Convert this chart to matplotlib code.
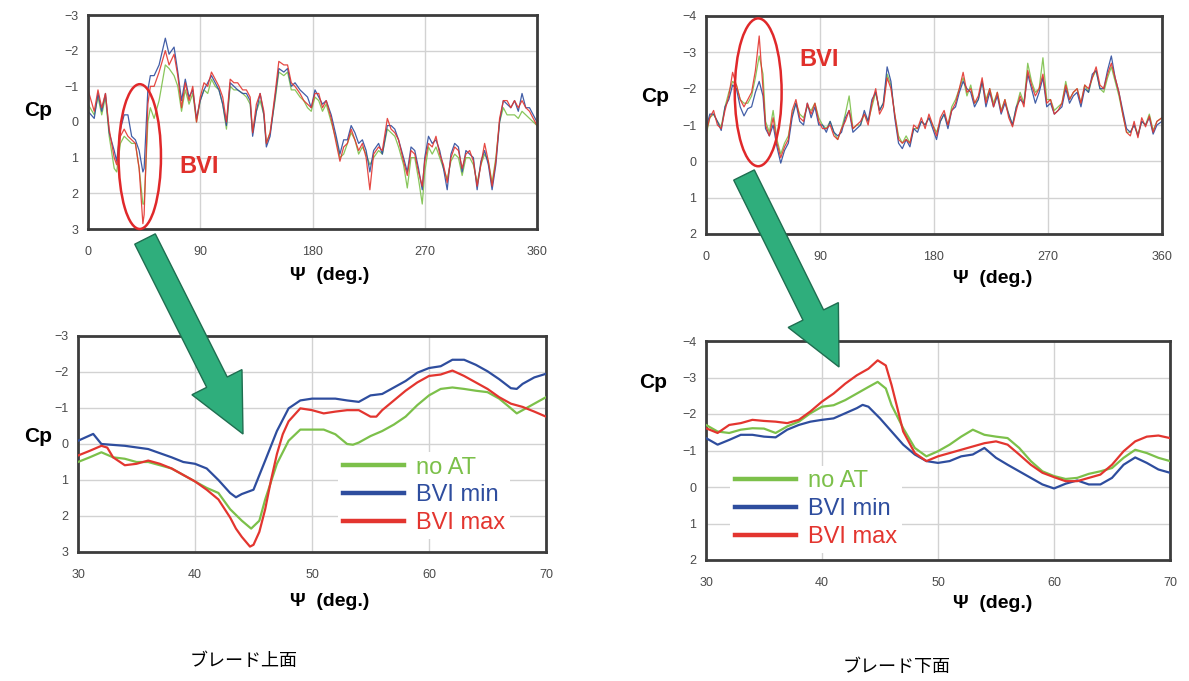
import matplotlib
matplotlib.use('Agg')
import matplotlib.pyplot as plt
from matplotlib.patches import Ellipse, FancyArrow

plt.rcParams['font.family'] = ['Liberation Sans', 'DejaVu Sans']

# ---------------- data ----------------
series_names = ['no AT', 'BVI min', 'BVI max']
series_colors = ['#7cc04a', '#2e4d9e', '#e3352f']

# upper surface, full revolution
psi_upper = [0, 5, 8, 11, 14, 17, 21, 23, 26, 29, 32, 35, 38, 41, 44, 45, 48, 50, 53, 57,
             62, 65, 69, 72, 75, 78, 81, 84, 87, 90, 93, 96, 99, 102, 105, 108, 111, 114, 117, 120,
             124, 127, 130, 132, 135, 138, 141, 143, 146, 150, 153, 157, 160, 163, 166, 170, 173, 176, 179, 182,
             185, 188, 191, 195, 199, 202, 205, 208, 211, 214, 217, 220, 223, 226, 229, 233, 236, 240, 243, 246,
             249, 253, 256, 259, 262, 265, 268, 270, 273, 276, 279, 282, 285, 288, 291, 294, 297, 300, 303, 306,
             309, 312, 315, 318, 321, 324, 327, 330, 333, 336, 339, 342, 345, 348, 351, 354, 357, 360]
cp_upper_noat = [-0.5, -0.2, -0.7, -0.2, -0.7, 0.4, 1.3, 1.4, 0.6, 0.4, 0.5, 0.6, 0.6, 1.3, 2.3, 2.3, 0.0, -0.4, -0.1, -0.6,
                 -1.6, -1.5, -1.3, -1.0, -0.3, -0.9, -0.5, -0.8, 0.0, -0.6, -0.9, -0.8, -1.2, -1.0, -0.9, -0.5, 0.2, -1.0, -0.9, -0.9,
                 -0.8, -0.7, -0.5, 0.3, -0.3, -0.6, -0.2, 0.6, 0.3, -0.6, -1.4, -1.3, -1.4, -0.9, -0.9, -0.7, -0.6, -0.4, -0.3, -0.7,
                 -0.6, -0.3, -0.5, 0.0, 0.5, 1.0, 0.9, 0.6, 0.3, 0.5, 0.9, 0.7, 0.9, 1.2, 1.0, 0.8, 0.9, 0.2, 0.3, 0.4,
                 0.7, 1.2, 1.85, 1.0, 1.0, 1.6, 2.3, 1.4, 0.7, 0.9, 0.7, 1.0, 1.3, 1.6, 1.1, 0.9, 1.0, 1.5, 1.0, 1.0,
                 1.2, 1.7, 1.2, 0.9, 1.1, 1.7, 1.0, 0.0, -0.4, -0.2, -0.2, -0.2, -0.1, -0.3, -0.2, -0.1, 0.0, 0.1]
cp_upper_min = [-0.3, -0.1, -0.8, -0.3, -0.8, 0.3, 0.8, 1.1, 0.2, -0.2, -0.2, 0.4, 0.5, 0.8, 1.4, 1.3, -0.9, -1.3, -1.3, -1.6,
                -2.35, -1.9, -2.1, -1.4, -0.6, -1.2, -0.7, -0.9, -0.1, -0.6, -0.9, -1.1, -1.3, -1.1, -0.9, -0.5, 0.1, -1.1, -1.0, -0.9,
                -0.8, -0.8, -0.6, 0.4, -0.3, -0.8, -0.2, 0.7, 0.4, -0.7, -1.5, -1.4, -1.5, -1.0, -1.1, -0.9, -0.8, -0.7, -0.4, -0.9,
                -0.7, -0.5, -0.6, -0.2, 0.4, 0.9, 0.5, 0.5, 0.1, 0.3, 0.6, 0.5, 0.8, 1.4, 0.8, 0.6, 0.9, 0.1, 0.1, 0.2,
                0.5, 1.0, 1.4, 0.7, 0.8, 1.3, 1.9, 1.0, 0.4, 0.6, 0.5, 0.8, 1.3, 1.9, 0.9, 0.6, 0.7, 1.4, 0.8, 0.9,
                1.0, 1.9, 1.1, 0.8, 1.2, 1.9, 1.2, 0.0, -0.6, -0.5, -0.4, -0.6, -0.3, -0.8, -0.4, -0.4, -0.2, 0.0]
cp_upper_max = [-0.9, -0.3, -0.9, -0.4, -0.8, 0.2, 1.0, 1.2, 0.4, 0.2, 0.4, 0.5, 0.6, 1.3, 2.85, 2.6, -0.5, -1.0, -1.0, -1.4,
                -2.0, -1.6, -1.9, -1.3, -0.4, -1.1, -0.6, -1.0, 0.0, -0.7, -1.1, -1.0, -1.4, -1.2, -1.0, -0.7, 0.0, -1.2, -1.1, -1.1,
                -0.9, -0.9, -0.7, 0.3, -0.5, -0.8, -0.3, 0.6, 0.3, -0.8, -1.7, -1.6, -1.6, -1.1, -1.0, -0.8, -0.6, -0.5, -0.4, -0.8,
                -0.8, -0.4, -0.6, -0.1, 0.6, 1.1, 0.7, 0.6, 0.2, 0.5, 0.8, 0.6, 1.0, 1.9, 0.9, 0.7, 0.8, -0.1, 0.2, 0.3,
                0.5, 1.1, 1.5, 0.8, 0.9, 1.4, 1.8, 1.1, 0.6, 0.7, 0.4, 0.9, 1.2, 1.7, 1.0, 0.7, 0.8, 1.3, 0.9, 0.8,
                1.1, 1.8, 1.2, 0.6, 1.1, 1.8, 1.1, -0.1, -0.6, -0.6, -0.4, -0.6, -0.4, -0.6, -0.4, -0.3, -0.1, 0.1]

# lower surface, full revolution
psi_lower = [0, 3, 6, 9, 12, 15, 18, 21, 24, 27, 30, 33, 36, 39, 42, 45, 47, 50, 53, 56,
             59, 62, 65, 68, 71, 74, 77, 80, 83, 86, 89, 92, 95, 98, 101, 104, 107, 110, 113, 116,
             119, 122, 125, 128, 131, 134, 137, 140, 143, 146, 149, 152, 155, 158, 161, 164, 167, 170, 173, 176,
             179, 182, 185, 188, 191, 194, 197, 200, 203, 206, 209, 212, 215, 218, 221, 224, 227, 230, 233, 236,
             239, 242, 245, 248, 251, 254, 257, 260, 263, 266, 269, 272, 275, 278, 281, 284, 287, 290, 293, 296,
             299, 302, 305, 308, 311, 314, 317, 320, 323, 326, 329, 332, 335, 338, 341, 344, 347, 350, 353, 356, 360]
cp_lower_noat = [-0.7, -1.2, -1.3, -1.1, -0.95, -1.5, -1.9, -2.2, -2.1, -1.7, -1.6, -1.6, -1.8, -2.3, -2.9, -2.4, -1.1, -0.8, -1.4, -0.6,
                 -0.2, -0.5, -0.7, -1.3, -1.6, -1.3, -1.2, -1.5, -1.4, -1.6, -1.2, -1.0, -0.9, -1.1, -0.8, -0.6, -0.9, -1.3, -1.8, -0.9,
                 -1.0, -1.0, -1.3, -1.1, -1.5, -1.9, -1.4, -1.6, -2.4, -2.1, -1.3, -0.7, -0.5, -0.7, -0.5, -0.9, -0.9, -1.1, -1.0, -1.2,
                 -1.0, -0.8, -1.1, -1.3, -1.0, -1.5, -1.7, -2.0, -2.3, -1.8, -2.1, -1.6, -1.7, -2.2, -1.7, -2.0, -1.6, -1.9, -1.4, -1.7,
                 -1.3, -1.0, -1.5, -1.9, -1.6, -2.7, -2.2, -1.9, -2.0, -2.85, -1.7, -1.7, -1.4, -1.5, -1.6, -2.2, -1.7, -1.9, -2.0, -1.6,
                 -2.1, -1.9, -2.3, -2.5, -2.0, -1.9, -2.3, -2.6, -2.2, -1.8, -1.3, -0.8, -0.8, -1.0, -0.75, -1.1, -1.0, -1.3, -0.85, -1.1, -1.2]
cp_lower_min = [-0.9, -1.3, -1.3, -1.1, -0.85, -1.5, -1.7, -2.1, -2.0, -1.5, -1.25, -1.45, -1.5, -1.9, -2.2, -1.8, -0.9, -0.7, -1.0, -0.4,
                0.05, -0.3, -0.5, -1.2, -1.6, -1.1, -1.0, -1.6, -1.2, -1.5, -1.0, -1.0, -0.8, -1.1, -0.8, -0.7, -0.8, -1.2, -1.4, -0.8,
                -0.9, -1.0, -1.4, -1.1, -1.7, -1.9, -1.4, -1.6, -2.6, -2.2, -1.2, -0.5, -0.35, -0.6, -0.4, -0.9, -0.8, -1.1, -1.0, -1.2,
                -0.9, -0.6, -1.1, -1.3, -0.9, -1.4, -1.5, -1.9, -2.2, -2.0, -1.9, -1.5, -1.7, -2.2, -1.5, -1.9, -1.5, -1.8, -1.3, -1.6,
                -1.3, -1.0, -1.5, -1.7, -1.6, -2.4, -2.0, -1.6, -1.9, -2.3, -1.5, -1.6, -1.3, -1.4, -1.5, -2.0, -1.6, -1.8, -1.9, -1.5,
                -2.0, -1.9, -2.4, -2.5, -2.0, -2.0, -2.5, -2.9, -2.3, -1.9, -1.4, -0.9, -0.8, -1.0, -0.7, -1.1, -1.0, -1.2, -0.75, -1.0, -1.1]
cp_lower_max = [-0.8, -1.2, -1.4, -1.0, -0.9, -1.4, -1.8, -2.45, -2.1, -1.7, -1.5, -1.7, -1.9, -2.5, -3.45, -2.0, -1.0, -0.7, -1.2, -0.5,
                -0.1, -0.4, -0.6, -1.4, -1.7, -1.2, -1.1, -1.6, -1.3, -1.6, -1.1, -0.9, -0.9, -1.0, -0.7, -0.6, -0.9, -1.1, -1.4, -0.9,
                -1.0, -1.1, -1.3, -1.0, -1.6, -2.0, -1.3, -1.5, -2.3, -2.0, -1.3, -0.6, -0.5, -0.6, -0.5, -1.0, -0.9, -1.2, -0.9, -1.3,
                -1.0, -0.7, -1.2, -1.4, -1.0, -1.4, -1.6, -2.0, -2.45, -1.9, -2.0, -1.6, -1.8, -2.3, -1.6, -2.0, -1.5, -1.9, -1.35, -1.7,
                -1.2, -0.95, -1.4, -1.8, -1.5, -2.5, -2.1, -1.8, -2.0, -2.4, -1.6, -1.7, -1.3, -1.4, -1.6, -2.1, -1.7, -1.9, -2.0, -1.6,
                -2.1, -2.0, -2.3, -2.6, -2.1, -2.0, -2.4, -2.7, -2.3, -1.9, -1.3, -0.8, -0.7, -1.1, -0.65, -1.2, -0.95, -1.25, -0.8, -1.1, -1.2]

# upper surface, zoom 30-70 deg
psi_uz_noat = [30, 31, 32, 33, 34, 35, 36, 37, 38, 39, 40, 41, 42, 43, 44, 44.8, 45.5, 46, 47, 48, 49, 50,
               51, 52, 53, 53.5, 54, 55, 56, 57, 58, 59, 60, 61, 62, 63, 64, 65, 66, 67, 67.5, 68, 69, 70]
cp_uz_noat = [0.5, 0.37, 0.23, 0.37, 0.41, 0.5, 0.5, 0.59, 0.68, 0.86, 1.04, 1.22, 1.36, 1.81, 2.13, 2.35, 2.13, 1.54, 0.55, -0.09, -0.4, -0.4,
              -0.4, -0.27, 0.0, 0.02, -0.04, -0.22, -0.36, -0.54, -0.76, -1.08, -1.35, -1.53, -1.57, -1.53, -1.48, -1.44, -1.26, -0.99, -0.85, -0.94, -1.12, -1.3]
psi_uz_min = [30, 31.3, 32, 34, 36, 38, 39, 40, 41, 42, 43, 43.5, 44, 45, 46, 47, 48, 49, 50, 52,
              53, 54, 55, 56, 57, 58, 59, 60, 61, 62, 63, 64, 65, 66, 67, 67.5, 68, 69, 70]
cp_uz_min = [-0.09, -0.28, 0.0, 0.05, 0.14, 0.37, 0.5, 0.55, 0.68, 1.0, 1.36, 1.48, 1.39, 1.27, 0.46, -0.36, -0.99, -1.21, -1.26, -1.26,
             -1.21, -1.17, -1.35, -1.39, -1.57, -1.75, -1.98, -2.11, -2.16, -2.34, -2.34, -2.2, -2.02, -1.8, -1.55, -1.53, -1.67, -1.85, -1.95]
psi_uz_max = [30, 31, 32, 32.5, 33, 34, 35, 36, 37, 38, 39, 40, 41, 42, 43, 43.5, 44, 44.7, 45, 45.5,
              46, 46.5, 47, 47.5, 48, 49, 50, 51, 52, 53, 54, 55, 55.5, 56, 57, 58, 59, 60, 61, 62,
              63, 64, 65, 66, 67, 68, 69, 70]
cp_uz_max = [0.32, 0.19, 0.05, 0.1, 0.37, 0.59, 0.55, 0.46, 0.55, 0.68, 0.86, 1.04, 1.27, 1.54, 2.04, 2.35, 2.58, 2.85, 2.8, 2.44,
             1.81, 1.0, 0.28, -0.27, -0.63, -0.99, -0.94, -0.85, -0.9, -0.94, -0.94, -0.76, -0.76, -0.94, -1.21, -1.48, -1.71, -1.89, -1.93, -2.04,
             -1.89, -1.71, -1.53, -1.3, -1.12, -1.03, -0.9, -0.76]

# lower surface, zoom 30-70 deg
psi_lz_noat = [30, 31, 32, 33, 34, 35, 36, 37, 38, 39, 40, 41, 42, 43, 44, 44.8, 45.5,
               46, 47, 48, 49, 50, 51, 52, 53, 54, 55, 56, 57, 58, 59, 60, 61, 62, 63, 64, 65, 66, 67, 68, 69, 70]
cp_lz_noat = [-1.7, -1.52, -1.48, -1.57, -1.61, -1.6, -1.48, -1.66, -1.79, -2.02, -2.2, -2.24, -2.38, -2.56, -2.74, -2.88, -2.7,
              -2.24, -1.61, -1.07, -0.84, -0.98, -1.16, -1.38, -1.57, -1.43, -1.38, -1.34, -1.07, -0.71, -0.43, -0.3, -0.22, -0.25,
              -0.36, -0.43, -0.52, -0.8, -1.02, -0.93, -0.8, -0.71]
psi_lz_min = [30, 31, 32, 33, 34, 35, 36, 37, 38, 39, 40, 41, 42, 43, 43.5,
              44, 45, 46, 47, 48, 49, 50, 51, 52, 53, 54, 55, 56, 57, 58, 59, 60, 61, 62, 63, 64, 65, 66, 67, 68, 69, 70]
cp_lz_min = [-1.34, -1.16, -1.29, -1.43, -1.43, -1.38, -1.36, -1.57, -1.7, -1.79, -1.84, -1.88, -2.02, -2.16, -2.25,
             -2.2, -1.88, -1.52, -1.16, -0.89, -0.71, -0.66, -0.71, -0.84, -0.89, -1.07, -0.8, -0.61, -0.43, -0.25, -0.07, 0.04,
             -0.09, -0.18, -0.07, -0.07, -0.25, -0.61, -0.81, -0.66, -0.48, -0.39]
psi_lz_max = [30, 31, 32, 33, 34, 35, 36, 37, 38, 39, 40, 41, 42, 43, 44, 44.8, 45.5, 46, 46.5, 47,
              48, 49, 50, 51, 52, 53, 54, 55, 56, 57, 58, 59, 60, 61, 62, 63, 64, 65, 66, 67, 68, 69, 70]
cp_lz_max = [-1.61, -1.48, -1.7, -1.75, -1.84, -1.81, -1.79, -1.75, -1.84, -2.07, -2.34, -2.56, -2.83, -3.06, -3.24, -3.47, -3.33, -2.79, -2.16, -1.52,
             -0.93, -0.71, -0.84, -0.93, -1.02, -1.11, -1.2, -1.25, -1.16, -0.89, -0.61, -0.39, -0.27, -0.16, -0.16, -0.25, -0.34,
             -0.61, -0.98, -1.25, -1.38, -1.41, -1.34]

full_xticks = [0, 90, 180, 270, 360]
zoom_xticks = [30, 40, 50, 60, 70]
upper_yticks = [-3, -2, -1, 0, 1, 2, 3]
lower_yticks = [-4, -3, -2, -1, 0, 1, 2]
captions = ['ブレード上面', 'ブレード下面']

# ---------------- figure ----------------
W, H = 1189, 681
fig = plt.figure(figsize=(W / 100, H / 100), dpi=100)


def px_axes(left, top, right, bottom):
    return fig.add_axes([left / W, 1 - bottom / H, (right - left) / W, (bottom - top) / H])


def style(ax, xlim, xticks, yticks):
    ax.set_xlim(*xlim)
    ax.set_ylim(yticks[-1], yticks[0])
    ax.set_xticks(xticks)
    ax.set_yticks(yticks)
    ax.set_yticklabels(['\u2212%d' % -t if t < 0 else '%d' % t for t in yticks])
    ax.grid(True, color='#d2d2d2', lw=1.0)
    ax.set_axisbelow(True)
    for s in ax.spines.values():
        s.set_linewidth(2.0)
        s.set_color('#3c3c3c')
    ax.tick_params(length=0, labelsize=9, labelcolor='#4a4a4a')
    ax.tick_params(axis='x', pad=12)
    ax.tick_params(axis='y', pad=7)


ax_tl = px_axes(88, 15, 537, 229)
ax_bl = px_axes(78, 336, 546, 552)
ax_tr = px_axes(706, 16, 1162, 234)
ax_br = px_axes(706, 341, 1170, 560)

style(ax_tl, (0, 360), full_xticks, upper_yticks)
style(ax_bl, (30, 70), zoom_xticks, upper_yticks)
style(ax_tr, (0, 360), full_xticks, lower_yticks)
style(ax_br, (30, 70), zoom_xticks, lower_yticks)

for ys, c in zip([cp_upper_noat, cp_upper_min, cp_upper_max], series_colors):
    ax_tl.plot(psi_upper, ys, color=c, lw=0.9, alpha=0.9)
for ys, c in zip([cp_lower_noat, cp_lower_min, cp_lower_max], series_colors):
    ax_tr.plot(psi_lower, ys, color=c, lw=0.9, alpha=0.9)

for (xs, ys), c, n in zip([(psi_uz_noat, cp_uz_noat), (psi_uz_min, cp_uz_min), (psi_uz_max, cp_uz_max)],
                          series_colors, series_names):
    ax_bl.plot(xs, ys, color=c, lw=1.6, label=n, zorder=3)
for (xs, ys), c, n in zip([(psi_lz_noat, cp_lz_noat), (psi_lz_min, cp_lz_min), (psi_lz_max, cp_lz_max)],
                          series_colors, series_names):
    ax_br.plot(xs, ys, color=c, lw=1.6, label=n, zorder=3)

for ax, anchor in [(ax_bl, (0.556, 0.262)), (ax_br, (0.052, 0.232))]:
    leg = ax.legend(loc='center left', bbox_to_anchor=anchor, frameon=True, fontsize=17,
                    handlelength=2.6, handletextpad=0.5, labelspacing=0.25, borderpad=0.2,
                    borderaxespad=0.0, labelcolor='linecolor')
    leg.set_zorder(2)
    leg.get_frame().set_facecolor('white')
    leg.get_frame().set_edgecolor('none')
    leg.get_frame().set_alpha(1)
    for h in leg.get_lines():
        h.set_linewidth(3.2)

# BVI highlights
ax_tl.add_patch(Ellipse((41.5, 0.97), 34, 4.06, fill=False, ec='#e0282a', lw=1.8, clip_on=False, zorder=5))
ax_tl.text(89, 1.25, 'BVI', color='#e0302b', fontsize=17, fontweight='bold', ha='center', va='center')
ax_tr.add_patch(Ellipse((41.2, -1.9), 37, 4.07, fill=False, ec='#e0282a', lw=1.8, clip_on=False, zorder=5))
ax_tr.text(89, -2.8, 'BVI', color='#e0302b', fontsize=17, fontweight='bold', ha='center', va='center')

# axis labels
for (x, y) in [(38, 110), (38, 437), (655, 97), (653, 382)]:
    fig.text(x / W, 1 - y / H, 'Cp', fontsize=15, fontweight='bold', ha='center', va='center')
for (x, y) in [(330, 275), (330, 601), (993, 278), (993, 604)]:
    fig.text(x / W, 1 - y / H, '\u03a8  (deg.)', fontsize=14, fontweight='bold', ha='center', va='center')

# captions
fig.text(244 / W, 1 - 661 / H, captions[0], fontsize=13, ha='center', va='center',
         family=['Noto Sans CJK JP', 'DejaVu Sans'])
fig.text(897 / W, 1 - 667 / H, captions[1], fontsize=13, ha='center', va='center',
         family=['Noto Sans CJK JP', 'DejaVu Sans'])

# overlay for the big arrows (pixel coordinates)
ov = fig.add_axes([0, 0, 1, 1], zorder=10)
ov.set_xlim(0, W)
ov.set_ylim(H, 0)
ov.axis('off')
ov.patch.set_alpha(0)
for (x0, y0, x1, y1) in [(145, 239, 243, 434), (744, 175, 839, 367)]:
    ov.add_patch(FancyArrow(x0, y0, x1 - x0, y1 - y0, width=23, head_width=56, head_length=58,
                            length_includes_head=True, fc='#2fae7c', ec='#1f6e50', lw=1.0))

fig.savefig('out.png', dpi=100)
